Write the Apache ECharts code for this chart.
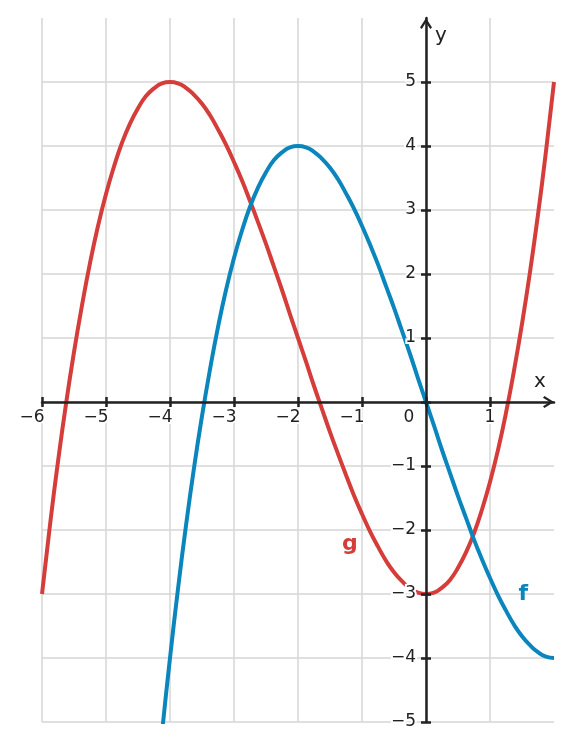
<!DOCTYPE html>
<html>
<head>
<meta charset="utf-8">
<script src="https://cdn.jsdelivr.net/npm/echarts@6/dist/echarts.min.js"></script>
<style>
  html, body { margin: 0; padding: 0; background: #fff; }
  #chart { width: 573px; height: 752px; }
</style>
</head>
<body>
<div id="chart"></div>
<script>
const fX = [-4.25, -4.125, -4, -3.875, -3.75, -3.625, -3.5, -3.375, -3.25, -3.125, -3,
  -2.875, -2.75, -2.625, -2.5, -2.375, -2.25, -2.125, -2, -1.875, -1.75, -1.625, -1.5,
  -1.375, -1.25, -1.125, -1, -0.875, -0.75, -0.625, -0.5, -0.375, -0.25, -0.125, 0,
  0.125, 0.25, 0.375, 0.5, 0.625, 0.75, 0.875, 1, 1.125, 1.25, 1.375, 1.5, 1.625, 1.75,
  1.875, 2];
const fY = [-6.44, -5.17, -4, -2.92, -1.93, -1.03, -0.22, 0.51, 1.17, 1.75, 2.25,
  2.68, 3.05, 3.35, 3.59, 3.78, 3.9, 3.98, 4, 3.98, 3.91, 3.8, 3.66,
  3.48, 3.26, 3.02, 2.75, 2.46, 2.15, 1.81, 1.47, 1.11, 0.75, 0.37, 0,
  -0.37, -0.75, -1.11, -1.47, -1.81, -2.15, -2.46, -2.75, -3.02, -3.26, -3.48, -3.66, -3.8, -3.91,
  -3.98, -4];
const gX = [-6, -5.875, -5.75, -5.625, -5.5, -5.375, -5.25, -5.125, -5, -4.875, -4.75,
  -4.625, -4.5, -4.375, -4.25, -4.125, -4, -3.875, -3.75, -3.625, -3.5, -3.375, -3.25,
  -3.125, -3, -2.875, -2.75, -2.625, -2.5, -2.375, -2.25, -2.125, -2, -1.875, -1.75,
  -1.625, -1.5, -1.375, -1.25, -1.125, -1, -0.875, -0.75, -0.625, -0.5, -0.375, -0.25,
  -0.125, 0, 0.125, 0.25, 0.375, 0.5, 0.625, 0.75, 0.875, 1, 1.125, 1.25, 1.375, 1.5,
  1.625, 1.75, 1.875, 2];
const gY = [-3, -1.92, -0.93, -0.03, 0.78, 1.51, 2.17, 2.75, 3.25, 3.68, 4.05,
  4.35, 4.59, 4.78, 4.9, 4.98, 5, 4.98, 4.91, 4.8, 4.66, 4.48, 4.26,
  4.02, 3.75, 3.46, 3.14, 2.81, 2.47, 2.11, 1.75, 1.37, 1, 0.63, 0.25,
  -0.11, -0.47, -0.81, -1.14, -1.46, -1.75, -2.02, -2.26, -2.48, -2.66, -2.8, -2.91,
  -2.98, -3, -2.98, -2.9, -2.78, -2.59, -2.35, -2.05, -1.68, -1.25, -0.75, -0.17, 0.49, 1.22,
  2.03, 2.93, 3.92, 5];

// curve name labels
const fLabel = { text: "f", at: [1.52, -3.0] };
const gLabel = { text: "g", at: [-1.19, -2.23] };

// ticks and tick labels
const xTicks = [-6, -5, -4, -3, -2, -1, 0, 1];
const xTickLabels = [-6, -5, -4, -3, -2, -1, 0, 1];
const yTicks = [-5, -4, -3, -2, -1, 0, 1, 2, 3, 4, 5];
const yTickLabels = [-5, -4, -3, -2, -1, 1, 2, 3, 4, 5];

const RED = "#d43d3a";
const BLUE = "#0a86bd";
const INK = "#222";
const GRID = "#d6d6d6";
const FONT = "DejaVu Sans";

const arrow = "path://M6,0 L12,9.6 L10.2,11 L6,4.2 L1.8,11 L0,9.6 Z";

const toPairs = (xs, ys) => xs.map((x, i) => [x, ys[i]]);
const minusText = (v) => (v < 0 ? "\u2212" + Math.abs(v) : String(v));

const chart = echarts.init(document.getElementById("chart"));

const xBase = { type: "value", min: -6, max: 2, interval: 1 };
const yBase = { type: "value", min: -5, max: 6, interval: 1 };
const tickStyle = { color: INK, width: 2.5 };
const axisLineStyle = { color: INK, width: 2.5 };

// tick labels sit on the zero lines, so they are drawn as label-only points
const tickFont = { fontFamily: FONT, fontSize: 17, color: INK, textBorderColor: "#fff", textBorderWidth: 4 };
const xLabelData = xTickLabels.map((v) => ({
  value: [v, 0],
  label: { offset: [v === 0 ? -17 : v < 0 ? -10 : 0, 0] },
}));
const yLabelData = yTickLabels.map((v) => [0, v]);

const labelOnly = (data, label) => ({
  type: "scatter", xAxisIndex: 0, yAxisIndex: 0, symbolSize: 0, silent: true,
  itemStyle: { opacity: 1 },
  emphasis: { disabled: true },
  data: data,
  label: Object.assign({ show: true }, label),
  z: 6,
});

const option = {
  animation: false,
  grid: { left: 42, right: 19, top: 18, bottom: 30, containLabel: false, outerBoundsMode: "none" },
  xAxis: [
    // grid lines only
    Object.assign({}, xBase, {
      position: "bottom",
      axisLine: { show: false, onZero: false },
      axisTick: { show: false },
      axisLabel: { show: false },
      splitLine: { show: true, showMaxLine: false, lineStyle: { color: GRID, width: 1.5 } },
      z: 0,
    }),
    // axis line with lower ticks
    Object.assign({}, xBase, {
      position: "bottom",
      name: "x",
      nameLocation: "end",
      nameGap: -20,
      nameTextStyle: { fontFamily: FONT, fontSize: 20, color: INK, align: "left", verticalAlign: "bottom", padding: [0, 0, 10, 0] },
      axisLine: {
        show: true, onZero: true, onZeroAxisIndex: 0,
        symbol: ["none", arrow], symbolSize: [12, 11], symbolOffset: [0, -5.5],
        lineStyle: axisLineStyle,
      },
      axisTick: { show: true, length: 5, customValues: xTicks, lineStyle: tickStyle },
      axisLabel: { show: false },
      splitLine: { show: false },
      z: 5,
    }),
    // upper ticks
    Object.assign({}, xBase, {
      position: "top",
      axisLine: { show: false, onZero: true, onZeroAxisIndex: 0 },
      axisTick: { show: true, length: 5, customValues: xTicks, lineStyle: tickStyle },
      axisLabel: { show: false },
      splitLine: { show: false },
      z: 5,
    }),
  ],
  yAxis: [
    Object.assign({}, yBase, {
      position: "left",
      axisLine: { show: false, onZero: false },
      axisTick: { show: false },
      axisLabel: { show: false },
      splitLine: { show: true, showMaxLine: false, lineStyle: { color: GRID, width: 1.5 } },
      z: 0,
    }),
    Object.assign({}, yBase, {
      position: "left",
      name: "y",
      nameLocation: "end",
      nameGap: -18,
      nameTextStyle: { fontFamily: FONT, fontSize: 20, color: INK, align: "left", verticalAlign: "middle", padding: [0, 0, 0, 9] },
      axisLine: {
        show: true, onZero: true, onZeroAxisIndex: 0,
        symbol: ["none", arrow], symbolSize: [12, 11], symbolOffset: [0, -5.5],
        lineStyle: axisLineStyle,
      },
      axisTick: { show: true, length: 5, customValues: yTicks, lineStyle: tickStyle },
      axisLabel: { show: false },
      splitLine: { show: false },
      z: 5,
    }),
    Object.assign({}, yBase, {
      position: "right",
      axisLine: { show: false, onZero: true, onZeroAxisIndex: 0 },
      axisTick: { show: true, length: 5, customValues: yTicks, lineStyle: tickStyle },
      axisLabel: { show: false },
      splitLine: { show: false },
      z: 5,
    }),
  ],
  series: [
    {
      name: "g", type: "line", xAxisIndex: 0, yAxisIndex: 0,
      data: toPairs(gX, gY), smooth: true, showSymbol: false, clip: true,
      lineStyle: { color: RED, width: 4 },
    },
    {
      name: "f", type: "line", xAxisIndex: 0, yAxisIndex: 0,
      data: toPairs(fX, fY), smooth: true, showSymbol: false, clip: true,
      lineStyle: { color: BLUE, width: 4 },
    },
    labelOnly([gLabel.at], { position: "inside", formatter: gLabel.text, fontFamily: FONT, fontSize: 22, fontWeight: "bold", color: RED }),
    labelOnly([fLabel.at], { position: "inside", formatter: fLabel.text, fontFamily: FONT, fontSize: 22, fontWeight: "bold", color: BLUE }),
    labelOnly(xLabelData, Object.assign({ position: "bottom", distance: 7, formatter: (p) => minusText(p.value[0]) }, tickFont)),
    labelOnly(yLabelData, Object.assign({ position: "left", distance: 10, formatter: (p) => minusText(p.value[1]) }, tickFont)),
  ],
};

chart.setOption(option);
window.addEventListener("resize", () => chart.resize());
</script>
</body>
</html>
